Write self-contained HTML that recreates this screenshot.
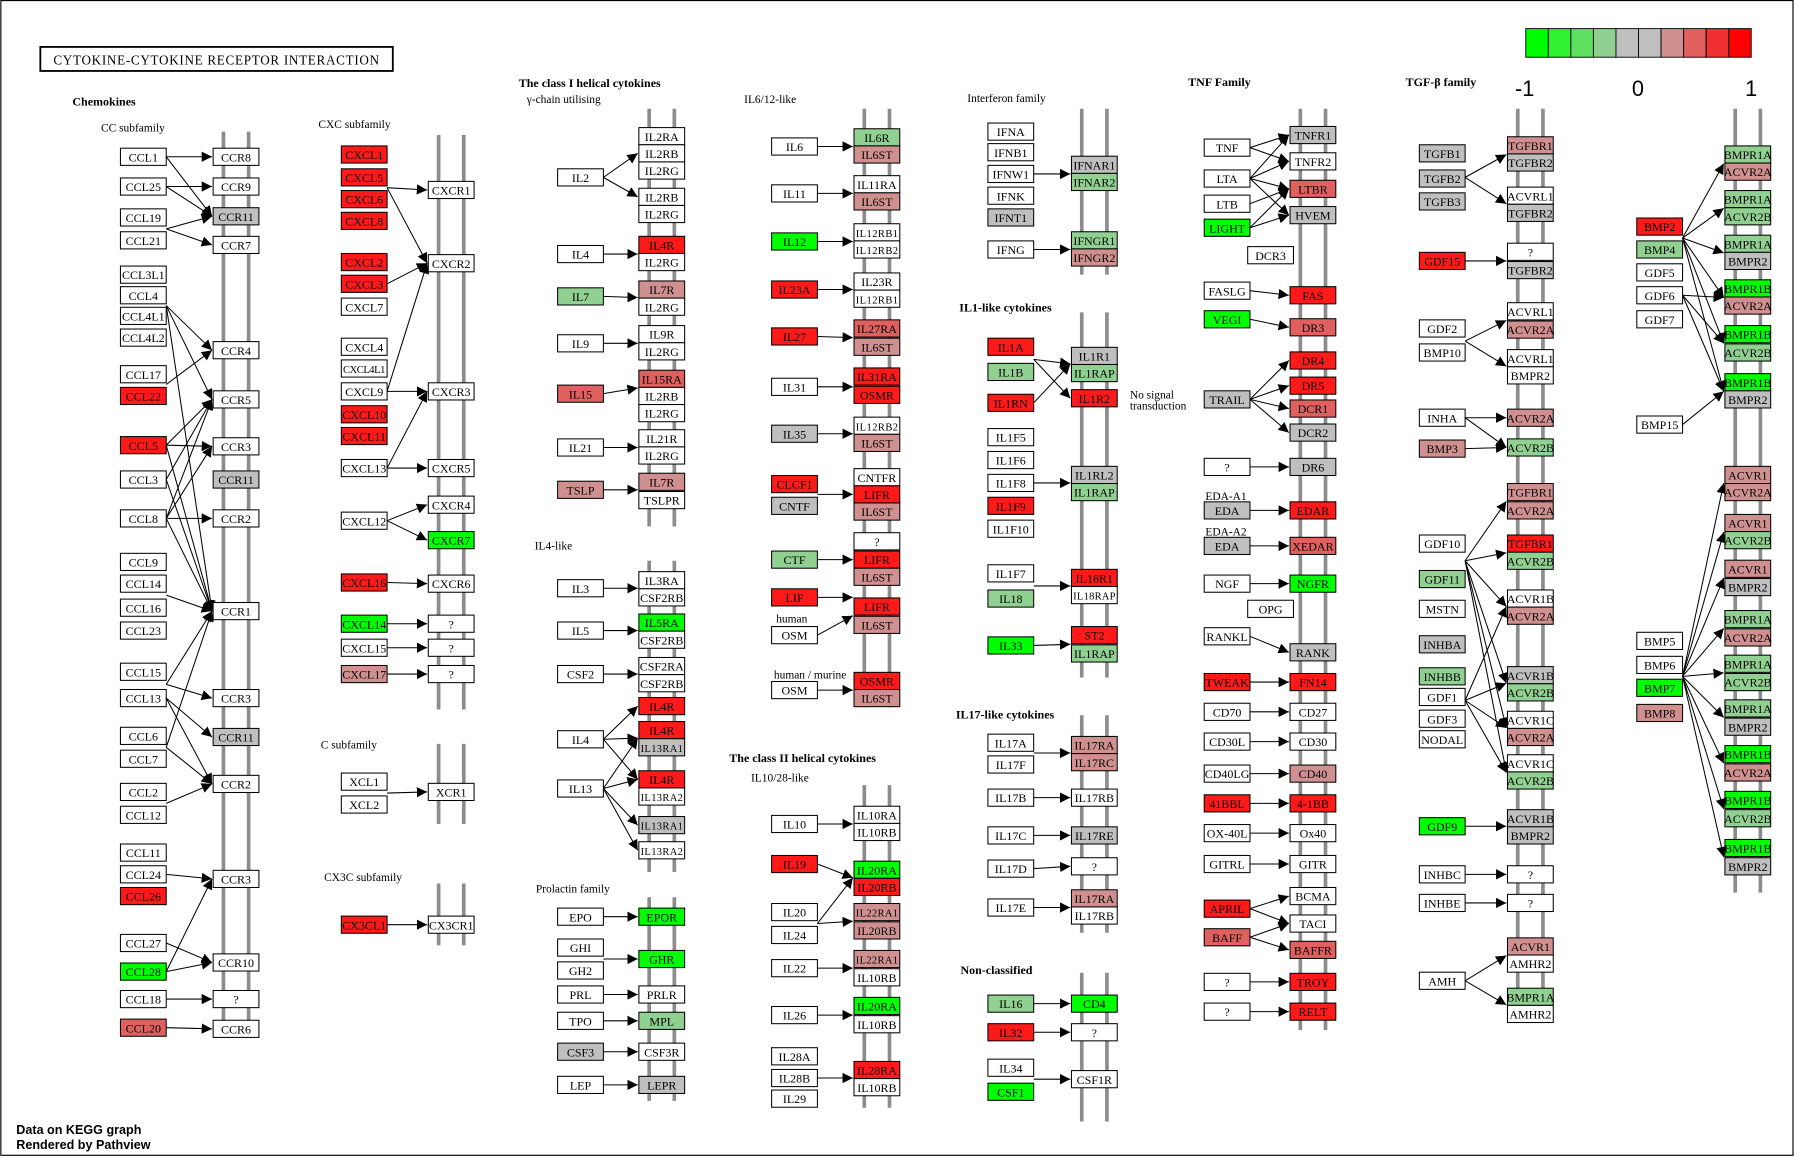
<!DOCTYPE html>
<html><head><meta charset="utf-8"><style>
html,body{margin:0;padding:0;background:#fff}
svg{display:block}
text{font-family:"Liberation Serif",serif}
</style></head><body>
<svg id="map" xmlns="http://www.w3.org/2000/svg" width="1795" height="1157" viewBox="0 0 1568 1011">
<defs><marker id="ah" viewBox="0 0 10 10" refX="10" refY="5" markerWidth="9" markerHeight="9" markerUnits="userSpaceOnUse" orient="auto"><path d="M0,0L10,5L0,10z" fill="#000"/></marker></defs>
<rect x="0.5" y="0.5" width="1566" height="1009" fill="#fff" stroke="#000" stroke-width="1"/>
<rect x="35" y="41" width="308" height="21" fill="#fff" stroke="#000" stroke-width="1.6"/>
<text x="189" y="56.5" font-size="11.5" text-anchor="middle" letter-spacing="0.6">CYTOKINE-CYTOKINE RECEPTOR INTERACTION</text>
<g id="legend"></g>
<g id="mem"></g><g id="edges"></g><g id="nodes"></g><g id="labels"></g>
<text x="14" y="991" font-size="11" font-weight="bold" style="font-family:'Liberation Sans',sans-serif">Data on KEGG graph</text>
<text x="14" y="1004" font-size="11" font-weight="bold" style="font-family:'Liberation Sans',sans-serif">Rendered by Pathview</text>
</svg>
<script>
const NS="http://www.w3.org/2000/svg";
const COL={W:"#ffffff",R:"#ff1a1a",m:"#e06060",r:"#d09090",G:"#00ff00",g:"#90d090",S:"#bfbfbf"};
const legendColors=["#00ff00","#30f030","#60e060","#90d090","#bfbfbf","#bfbfbf","#d09090","#e06060","#f03030","#ff0000"];
const legendTicks=["-1","0","1"];
// membranes: [x center, y1, y2]
const membranes=[[206,115,905],[394,118,620],[394,650,720],[394,772,826],[578,95,460],[578,490,762],[578,784,962],[766,95,618],[766,686,968],[956,95,240],[956,273,592],[956,625,815],[956,850,980],[1147,95,900],[1337,95,890],[1527,95,780]];
// columns: ligand x, receptor x, ligands [name,y,color], receptors [name,y,color], edges [ligandY, receptorY]
const columns=[
{lx:125,rx:206,
L:[["CCL1",137,"W"],["CCL25",163,"W"],["CCL19",190,"W"],["CCL21",210,"W"],["CCL3L1",240,"W"],["CCL4",258,"W"],["CCL4L1",276,"W"],["CCL4L2",295,"W"],["CCL17",327,"W"],["CCL22",346,"R"],["CCL5",389,"R"],["CCL3",419,"W"],["CCL8",453,"W"],["CCL9",491,"W"],["CCL14",510,"W"],["CCL16",531,"W"],["CCL23",551,"W"],["CCL15",587,"W"],["CCL13",610,"W"],["CCL6",643,"W"],["CCL7",663,"W"],["CCL2",692,"W"],["CCL12",712,"W"],["CCL11",745,"W"],["CCL24",764,"W"],["CCL26",783,"R"],["CCL27",824,"W"],["CCL28",849,"G"],["CCL18",873,"W"],["CCL20",898,"m"]],
R:[["CCR8",137,"W"],["CCR9",163,"W"],["CCR11",189,"S"],["CCR7",214,"W"],["CCR4",306,"W"],["CCR5",349,"W"],["CCR3",390,"W"],["CCR11",419,"S"],["CCR2",453,"W"],["CCR1",534,"W"],["CCR3",610,"W"],["CCR11",644,"S"],["CCR2",685,"W"],["CCR3",768,"W"],["CCR10",841,"W"],["?",873,"W"],["CCR6",899,"W"]],
E:[[137,137],[137,189],[163,163],[163,189],[200,189],[200,214],[267,306],[267,349],[267,534],[336,306],[389,349],[389,390],[389,534],[419,349],[419,534],[453,349],[453,390],[453,453],[453,534],[520,534],[598,534],[598,610],[610,644],[610,685],[653,534],[653,685],[702,685],[764,768],[824,841],[849,841],[849,768],[873,873],[898,899]]},
{lx:318,rx:394,
L:[["CXCL1",135,"R"],["CXCL5",155,"R"],["CXCL6",174,"R"],["CXCL8",193,"R"],["CXCL2",229,"R"],["CXCL3",248,"R"],["CXCL7",268,"W"],["CXCL4",303,"W"],["CXCL4L1",322,"W"],["CXCL9",342,"W"],["CXCL10",362,"R"],["CXCL11",381,"R"],["CXCL13",409,"W"],["CXCL12",455,"W"],["CXCL16",509,"R"],["CXCL14",545,"G"],["CXCL15",566,"W"],["CXCL17",589,"r"],["XCL1",683,"W"],["XCL2",703,"W"],["CX3CL1",808,"R"]],
R:[["CXCR1",166,"W"],["CXCR2",230,"W"],["CXCR3",342,"W"],["CXCR5",409,"W"],["CXCR4",441,"W"],["CXCR7",472,"G"],["CXCR6",510,"W"],["?",545,"W"],["?",566,"W"],["?",589,"W"],["XCR1",692,"W"],["CX3CR1",808,"W"]],
E:[[164,166],[164,230],[248,230],[342,342],[342,230],[409,409],[409,342],[455,441],[455,472],[509,510],[545,545],[566,566],[589,589],[693,692],[808,808]]},
{lx:507,rx:578,
L:[["IL2",155,"W"],["IL4",222,"W"],["IL7",259,"g"],["IL9",300,"W"],["IL15",344,"m"],["IL21",391,"W"],["TSLP",428,"r"],["IL3",514,"W"],["IL5",551,"W"],["CSF2",589,"W"],["IL4",646,"W"],["IL13",689,"W"],["EPO",801,"W"],["GHI",828,"W"],["GH2",848,"W"],["PRL",869,"W"],["TPO",892,"W"],["CSF3",919,"S"],["LEP",948,"W"]],
R:[["IL2RA",119,"W"],["IL2RB",134,"W"],["IL2RG",149,"W"],["IL2RB",172,"W"],["IL2RG",187,"W"],["IL4R",214,"R"],["IL2RG",229,"W"],["IL7R",253,"r"],["IL2RG",268,"W"],["IL9R",292,"W"],["IL2RG",307,"W"],["IL15RA",331,"m"],["IL2RB",346,"W"],["IL2RG",361,"W"],["IL21R",383,"W"],["IL2RG",398,"W"],["IL7R",421,"r"],["TSLPR",437,"W"],["IL3RA",507,"W"],["CSF2RB",522,"W"],["IL5RA",544,"G"],["CSF2RB",559,"W"],["CSF2RA",582,"W"],["CSF2RB",597,"W"],["IL4R",617,"R"],["IL4R",638,"R"],["IL13RA1",653,"S"],["IL4R",681,"R"],["IL13RA2",696,"W"],["IL13RA1",721,"S"],["IL13RA2",743,"W"],["EPOR",801,"G"],["GHR",838,"G"],["PRLR",869,"W"],["MPL",892,"g"],["CSF3R",919,"W"],["LEPR",948,"S"]],
E:[[155,134],[155,172],[222,222],[259,260],[300,300],[344,339],[391,391],[428,428],[514,514],[551,551],[589,589],[646,617],[646,645],[646,681],[689,645],[689,681],[689,721],[689,743],[801,801],[838,838],[869,869],[892,892],[919,919],[948,948]]},
{lx:694,rx:766,
L:[["IL6",128,"W"],["IL11",169,"W"],["IL12",211,"G"],["IL23A",253,"R"],["IL27",294,"R"],["IL31",338,"W"],["IL35",379,"S"],["CLCF1",423,"R"],["CNTF",442,"S"],["CTF",489,"g"],["LIF",522,"R"],["OSM",555,"W"],["OSM",603,"W"],["IL10",720,"W"],["IL19",755,"R"],["IL20",797,"W"],["IL24",817,"W"],["IL22",846,"W"],["IL26",887,"W"],["IL28A",923,"W"],["IL28B",942,"W"],["IL29",960,"W"]],
R:[["IL6R",120,"g"],["IL6ST",135,"r"],["IL11RA",161,"W"],["IL6ST",176,"r"],["IL12RB1",203,"W"],["IL12RB2",218,"W"],["IL23R",246,"W"],["IL12RB1",261,"W"],["IL27RA",287,"m"],["IL6ST",303,"r"],["IL31RA",329,"R"],["OSMR",345,"R"],["IL12RB2",372,"W"],["IL6ST",387,"r"],["CNTFR",417,"W"],["LIFR",432,"R"],["IL6ST",447,"r"],["?",473,"W"],["LIFR",489,"R"],["IL6ST",504,"r"],["LIFR",530,"R"],["IL6ST",546,"r"],["OSMR",595,"R"],["IL6ST",610,"r"],["IL10RA",712,"W"],["IL10RB",727,"W"],["IL20RA",760,"G"],["IL20RB",775,"R"],["IL22RA1",797,"r"],["IL20RB",813,"r"],["IL22RA1",838,"r"],["IL10RB",854,"W"],["IL20RA",879,"G"],["IL10RB",895,"W"],["IL28RA",935,"R"],["IL10RB",950,"W"]],
E:[[128,128],[169,169],[211,211],[253,253],[294,295],[338,338],[379,379],[432,432],[489,489],[522,522],[555,538],[603,603],[720,720],[755,767],[807,767],[807,805],[846,846],[887,887],[942,942]]},
{lx:883,rx:956,
L:[["IFNA",115,"W"],["IFNB1",133,"W"],["IFNW1",152,"W"],["IFNK",171,"W"],["IFNT1",190,"S"],["IFNG",218,"W"],["IL1A",303,"R"],["IL1B",325,"g"],["IL1RN",352,"R"],["IL1F5",382,"W"],["IL1F6",402,"W"],["IL1F8",422,"W"],["IL1F9",442,"R"],["IL1F10",462,"W"],["IL1F7",501,"W"],["IL18",523,"g"],["IL33",564,"G"],["IL17A",649,"W"],["IL17F",668,"W"],["IL17B",697,"W"],["IL17C",730,"W"],["IL17D",759,"W"],["IL17E",793,"W"],["IL16",877,"g"],["IL32",902,"R"],["IL34",933,"W"],["CSF1",954,"G"]],
R:[["IFNAR1",144,"S"],["IFNAR2",159,"g"],["IFNGR1",210,"g"],["IFNGR2",225,"r"],["IL1R1",311,"S"],["IL1RAP",326,"g"],["IL1R2",348,"R"],["IL1RL2",415,"S"],["IL1RAP",430,"g"],["IL18R1",505,"R"],["IL18RAP",520,"W"],["ST2",555,"R"],["IL1RAP",571,"g"],["IL17RA",651,"r"],["IL17RC",666,"r"],["IL17RB",697,"W"],["IL17RE",730,"S"],["?",757,"W"],["IL17RA",785,"r"],["IL17RB",800,"W"],["CD4",877,"G"],["?",902,"W"],["CSF1R",943,"W"]],
E:[[152,152],[218,218],[314,318],[314,348],[352,318],[422,422],[512,512],[564,563],[658,658],[697,697],[730,730],[759,757],[793,793],[877,877],[902,902],[943,943]]},
{lx:1072,rx:1147,
L:[["TNF",129,"W"],["LTA",156,"W"],["LTB",178,"W"],["LIGHT",199,"G"],["FASLG",254,"W"],["VEGI",279,"G"],["TRAIL",349,"S"],["?",408,"W"],["EDA",446,"S"],["EDA",477,"S"],["NGF",510,"W"],["RANKL",556,"W"],["TWEAK",596,"R"],["CD70",622,"W"],["CD30L",648,"W"],["CD40LG",676,"W"],["41BBL",702,"R"],["OX-40L",728,"W"],["GITRL",755,"W"],["APRIL",794,"R"],["BAFF",819,"m"],["?",858,"W"],["?",884,"W"]],
R:[["TNFR1",118,"S"],["TNFR2",141,"W"],["LTBR",165,"m"],["HVEM",188,"S"],["FAS",258,"R"],["DR3",286,"m"],["DR4",315,"R"],["DR5",337,"R"],["DCR1",357,"m"],["DCR2",378,"S"],["DR6",408,"S"],["EDAR",446,"R"],["XEDAR",477,"m"],["NGFR",510,"G"],["RANK",570,"S"],["FN14",596,"R"],["CD27",622,"W"],["CD30",648,"W"],["CD40",676,"r"],["4-1BB",702,"R"],["Ox40",728,"W"],["GITR",755,"W"],["BCMA",783,"W"],["TACI",807,"W"],["BAFFR",830,"m"],["TROY",858,"R"],["RELT",884,"R"]],
E:[[129,118],[129,141],[156,118],[156,141],[156,165],[156,188],[178,165],[199,165],[199,188],[254,258],[279,286],[349,315],[349,337],[349,357],[349,378],[408,408],[446,446],[477,477],[510,510],[556,570],[596,596],[622,622],[648,648],[676,676],[702,702],[728,728],[755,755],[794,783],[794,807],[819,807],[819,830],[858,858],[884,884]]},
{lx:1260,rx:1337,
L:[["TGFB1",134,"S"],["TGFB2",156,"S"],["TGFB3",176,"S"],["GDF15",228,"R"],["GDF2",287,"W"],["BMP10",308,"W"],["INHA",365,"W"],["BMP3",392,"r"],["GDF10",475,"W"],["GDF11",506,"g"],["MSTN",532,"W"],["INHBA",563,"S"],["INHBB",591,"g"],["GDF1",609,"W"],["GDF3",628,"W"],["NODAL",646,"W"],["GDF9",722,"G"],["INHBC",764,"W"],["INHBE",789,"W"],["AMH",857,"W"]],
R:[["TGFBR1",127,"r"],["TGFBR2",142,"S"],["ACVRL1",171,"W"],["TGFBR2",186,"S"],["?",220,"W"],["TGFBR2",236,"S"],["ACVRL1",272,"W"],["ACVR2A",288,"r"],["ACVRL1",313,"W"],["BMPR2",328,"W"],["ACVR2A",365,"r"],["ACVR2B",391,"g"],["TGFBR1",430,"r"],["ACVR2A",446,"r"],["TGFBR1",475,"R"],["ACVR2B",490,"g"],["ACVR1B",523,"W"],["ACVR2A",538,"r"],["ACVR1B",590,"S"],["ACVR2B",605,"g"],["ACVR1C",629,"W"],["ACVR2A",644,"r"],["ACVR1C",667,"W"],["ACVR2B",682,"g"],["ACVR1B",715,"S"],["BMPR2",730,"S"],["?",764,"W"],["?",789,"W"],["ACVR1",827,"r"],["AMHR2",842,"W"],["BMPR1A",871,"g"],["AMHR2",886,"W"]],
E:[[155,135],[155,178],[228,228],[298,280],[298,320],[365,365],[365,391],[392,391],[490,438],[490,483],[490,530],[490,597],[490,636],[490,675],[612,530],[612,597],[612,636],[612,675],[722,722],[764,764],[789,789],[857,835],[857,878]]},
{lx:1450,rx:1527,
L:[["BMP2",198,"R"],["BMP4",218,"g"],["GDF5",238,"W"],["GDF6",258,"W"],["GDF7",279,"W"],["BMP15",371,"W"],["BMP5",560,"W"],["BMP6",581,"W"],["BMP7",601,"G"],["BMP8",623,"r"]],
R:[["BMPR1A",135,"g"],["ACVR2A",150,"r"],["BMPR1A",174,"g"],["ACVR2B",189,"g"],["BMPR1A",213,"g"],["BMPR2",228,"S"],["BMPR1B",252,"G"],["ACVR2A",267,"r"],["BMPR1B",292,"G"],["ACVR2B",308,"g"],["BMPR1B",334,"G"],["BMPR2",349,"S"],["ACVR1",415,"r"],["ACVR2A",430,"r"],["ACVR1",457,"r"],["ACVR2B",472,"g"],["ACVR1",497,"r"],["BMPR2",513,"S"],["BMPR1A",541,"g"],["ACVR2A",557,"r"],["BMPR1A",580,"g"],["ACVR2B",596,"g"],["BMPR1A",619,"g"],["BMPR2",635,"S"],["BMPR1B",659,"G"],["ACVR2A",675,"r"],["BMPR1B",699,"G"],["ACVR2B",715,"g"],["BMPR1B",741,"G"],["BMPR2",757,"S"]],
E:[[208,143],[208,182],[208,221],[208,260],[208,300],[208,342],[258,260],[258,300],[258,342],[371,342],[591,422],[591,465],[591,505],[591,549],[591,588],[591,627],[591,667],[591,707],[591,749]]}
];
const sectionLabels=[["Chemokines",63,92,1],["CC subfamily",88,115,0],["CXC subfamily",278,112,0],["C subfamily",280,654,0],["CX3C subfamily",283,770,0],["The class I helical cytokines",453,76,1],["γ-chain utilising",460,90,0],["IL4-like",467,480,0],["Prolactin family",468,780,0],["IL6/12-like",650,90,0],["The class II helical cytokines",637,666,1],["IL10/28-like",656,683,0],["Interferon family",845,89,0],["IL1-like cytokines",838,272,1],["IL17-like cytokines",835,628,1],["Non-classified",839,851,1],["TNF Family",1038,75,1],["TGF-β family",1228,75,1],["No signal",987,348,0],["transduction",987,358,0],["EDA-A1",1053,437,0],["EDA-A2",1053,468,0],["human",678,544,0],["human / murine",676,593,0]];
const svg=document.getElementById("map");
function mk(t,a,p){const e=document.createElementNS(NS,t);for(const k in a)e.setAttribute(k,a[k]);p.appendChild(e);return e;}
// legend
const lg=document.getElementById("legend");
legendColors.forEach((c,i)=>{
  const r=mk("rect",{x:1333+i*19.7,y:25,width:19.7,height:25,fill:c,stroke:"#000","stroke-width":0.8},lg);
  
  
});
legendTicks.forEach((t,i)=>{
  const e=mk("text",{x:1332+i*99,y:84,"font-size":19,"text-anchor":"middle",style:"font-family:'Liberation Sans',sans-serif"},lg);
  e.textContent=t;
  
  
});
// membranes
const mg=document.getElementById("mem");
membranes.forEach(m=>{
  [-11,11].forEach(dx=>{
    const l=mk("line",{x1:m[0]+dx,x2:m[0]+dx,y1:m[1],y2:m[2],stroke:"#8c8c8c","stroke-width":3.2},mg);
    
    
  });
});
const BW=40,BH=15;
const eg=document.getElementById("edges"),ng=document.getElementById("nodes");
function box(n,cx,cy,c,kind){
  const g=mk("g",{},ng);
  
  
  mk("rect",{x:cx-BW/2,y:cy-BH/2,width:BW,height:BH,fill:COL[c],stroke:"#000","stroke-width":0.9},g);
  const fs=n.length>6?9.2:10.5;
  const t=mk("text",{x:cx,y:cy+4,"font-size":fs,"text-anchor":"middle",textLength:n.length>6?BW-3:null},g);
  if(n.length<=6)t.removeAttribute("textLength");
  t.textContent=n;
}
columns.forEach(col=>{
  col.E.forEach(e=>{
    const l=mk("line",{x1:col.lx+BW/2,y1:e[0],x2:col.rx-BW/2-1,y2:e[1],stroke:"#000","stroke-width":0.9,"marker-end":"url(#ah)"},eg);
    
    
  });
  col.L.forEach(n=>box(n[0],col.lx,n[1],n[2],"ligand"));
  col.R.forEach(n=>box(n[0],col.rx,n[1],n[2],"receptor"));
});
// extra small nodes (decoys)
[["DCR3",1110,223],["OPG",1110,532]].forEach(n=>box(n[0],n[1],n[2],"W","receptor"));
const lb=document.getElementById("labels");
sectionLabels.forEach(s=>{
  const t=mk("text",{x:s[1],y:s[2],"font-size":s[3]?10.5:10,"font-weight":s[3]?"bold":"normal"},lb);
  t.textContent=s[0];
  
  
});
</script>
</body></html>
